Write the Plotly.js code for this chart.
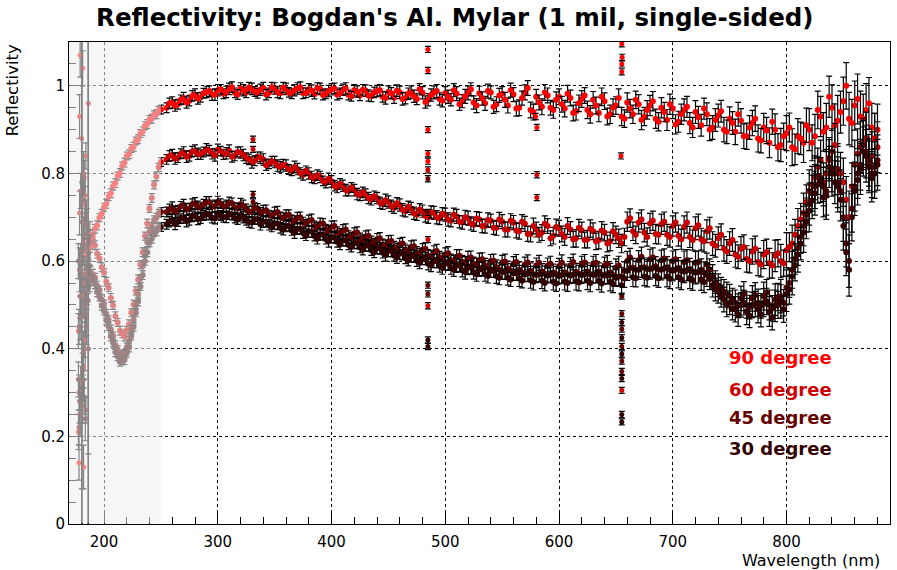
<!DOCTYPE html>
<html>
<head>
<meta charset="utf-8">
<script src="https://cdn.plot.ly/plotly-3.0.1.min.js"></script>
<style>html,body{margin:0;padding:0;background:#fff;}#chart{width:897px;height:570px;}</style>
</head>
<body>
<div id="chart"></div>
<script>
// Wavelength grid (nm): 2 nm steps in the UV dip, 5 nm above
const wavelength = [
186,188,190,192,194,196,198,200,202,204,
206,208,210,212,214,216,218,220,222,224,
226,228,230,232,234,236,238,240,242,244,
246,248,250,
255,260,265,270,275,280,
285,290,295,300,305,310,315,320,325,330,
335,340,345,350,355,360,365,370,375,380,
385,390,395,400,405,410,415,420,425,430,
435,440,445,450,455,460,465,470,475,480,
485,490,495,500,505,510,515,520,525,530,
535,540,545,550,555,560,565,570,575,580,
585,590,595,600,605,610,615,620,625,630,
635,640,645,650,655,660,665,670,675,680,
685,690,695,700,705,710,715,720,725,730,
735,740,745,750,755,760,765,770,775,780,
785,790,795,800,805,810,815,820,825,830,
835,840,845,850,855,860,865,870,875,880];

const refl90 = [
0.620,0.640,0.660,0.674,0.682,0.699,0.708,0.723,0.731,0.747,
0.755,0.771,0.778,0.794,0.801,0.817,0.825,0.840,0.844,0.857,
0.861,0.874,0.878,0.891,0.896,0.909,0.913,0.923,0.925,0.934,
0.935,0.944,0.946,
0.950,0.962,0.958,0.972,0.966,0.980,
0.974,0.986,0.979,0.990,0.982,0.993,0.984,0.994,0.985,0.993,
0.983,0.995,0.984,0.994,0.983,0.993,0.982,0.994,0.983,0.992,
0.981,0.993,0.982,0.992,0.980,0.991,0.979,0.990,0.978,0.989,
0.976,0.988,0.975,0.986,0.973,0.985,0.972,0.986,0.970,0.984,
0.968,0.985,0.970,0.983,0.968,0.982,0.965,0.984,0.962,0.983,
0.960,0.985,0.958,0.982,0.955,0.980,0.950,0.985,0.945,0.975,
0.952,0.978,0.945,0.975,0.948,0.972,0.942,0.970,0.945,0.968,
0.938,0.965,0.935,0.955,0.930,0.962,0.935,0.958,0.930,0.955,
0.925,0.950,0.922,0.948,0.918,0.945,0.915,0.940,0.910,0.935,
0.905,0.932,0.900,0.925,0.895,0.920,0.885,0.915,0.880,0.905,
0.870,0.900,0.865,0.892,0.860,0.885,0.870,0.900,0.885,0.930,
0.905,0.950,0.920,0.965,0.925,0.955,0.930,0.945,0.905,0.900];

const refl60 = [
0.640,0.660,0.652,0.636,0.617,0.606,0.586,0.574,0.553,0.539,
0.516,0.499,0.474,0.460,0.441,0.434,0.428,0.442,0.456,0.482,
0.501,0.532,0.558,0.592,0.620,0.657,0.686,0.720,0.744,0.774,
0.793,0.814,0.826,
0.832,0.842,0.836,0.848,0.840,0.852,
0.843,0.855,0.845,0.854,0.843,0.852,0.840,0.848,0.835,0.825,
0.838,0.832,0.822,0.826,0.815,0.818,0.806,0.810,0.797,0.800,
0.788,0.792,0.778,0.782,0.768,0.772,0.760,0.762,0.750,0.752,
0.740,0.744,0.730,0.735,0.722,0.728,0.714,0.720,0.706,0.714,
0.700,0.710,0.697,0.706,0.692,0.702,0.688,0.698,0.683,0.695,
0.680,0.692,0.676,0.690,0.672,0.688,0.668,0.685,0.662,0.672,
0.665,0.680,0.658,0.675,0.655,0.672,0.652,0.670,0.650,0.668,
0.648,0.665,0.645,0.660,0.640,0.690,0.668,0.688,0.665,0.686,
0.662,0.684,0.660,0.680,0.658,0.678,0.655,0.675,0.650,0.668,
0.640,0.652,0.628,0.640,0.615,0.628,0.605,0.622,0.598,0.615,
0.595,0.612,0.600,0.625,0.640,0.680,0.710,0.760,0.790,0.830,
0.800,0.850,0.810,0.780,0.700,0.820,0.860,0.880,0.840,0.860];

const refl45 = [
0.560,0.575,0.570,0.562,0.544,0.534,0.513,0.502,0.480,0.466,
0.444,0.429,0.408,0.398,0.385,0.386,0.388,0.404,0.418,0.444,
0.466,0.499,0.525,0.560,0.588,0.622,0.643,0.667,0.678,0.694,
0.699,0.709,0.712,
0.712,0.722,0.716,0.728,0.720,0.732,
0.722,0.734,0.724,0.735,0.724,0.733,0.722,0.730,0.718,0.712,
0.720,0.714,0.705,0.710,0.700,0.704,0.694,0.698,0.688,0.692,
0.680,0.685,0.673,0.678,0.666,0.670,0.658,0.663,0.652,0.656,
0.645,0.650,0.638,0.644,0.632,0.638,0.626,0.632,0.620,0.626,
0.612,0.620,0.608,0.615,0.602,0.610,0.598,0.606,0.594,0.602,
0.590,0.600,0.586,0.597,0.583,0.594,0.580,0.592,0.578,0.590,
0.576,0.590,0.574,0.588,0.574,0.590,0.575,0.592,0.576,0.592,
0.576,0.590,0.574,0.585,0.565,0.600,0.585,0.602,0.586,0.604,
0.588,0.602,0.586,0.600,0.584,0.598,0.582,0.596,0.580,0.592,
0.565,0.545,0.530,0.520,0.505,0.515,0.500,0.515,0.505,0.520,
0.500,0.512,0.520,0.540,0.580,0.630,0.680,0.730,0.770,0.790,
0.760,0.810,0.780,0.700,0.600,0.770,0.820,0.850,0.800,0.830];

const refl30 = [
0.540,0.558,0.555,0.547,0.529,0.518,0.498,0.486,0.465,0.451,
0.428,0.413,0.392,0.382,0.370,0.372,0.374,0.390,0.403,0.429,
0.450,0.482,0.508,0.542,0.568,0.600,0.620,0.642,0.651,0.665,
0.668,0.677,0.678,
0.684,0.694,0.690,0.700,0.694,0.705,
0.697,0.708,0.699,0.709,0.700,0.708,0.698,0.705,0.694,0.688,
0.696,0.690,0.682,0.686,0.676,0.680,0.670,0.674,0.664,0.668,
0.657,0.661,0.650,0.655,0.644,0.648,0.637,0.642,0.631,0.636,
0.625,0.630,0.619,0.624,0.613,0.618,0.607,0.612,0.601,0.606,
0.594,0.600,0.589,0.595,0.584,0.590,0.579,0.585,0.574,0.581,
0.570,0.578,0.566,0.575,0.562,0.572,0.560,0.570,0.556,0.568,
0.555,0.567,0.553,0.566,0.553,0.567,0.554,0.568,0.555,0.569,
0.555,0.567,0.553,0.562,0.545,0.578,0.563,0.580,0.565,0.582,
0.566,0.580,0.565,0.578,0.563,0.576,0.561,0.574,0.558,0.568,
0.545,0.530,0.512,0.505,0.490,0.500,0.485,0.500,0.490,0.505,
0.485,0.498,0.508,0.525,0.565,0.615,0.665,0.715,0.755,0.780,
0.750,0.800,0.770,0.680,0.580,0.760,0.810,0.840,0.790,0.820];

// measurement uncertainty per wavelength
const reflErr = [
0.014,0.012,0.011,0.010,0.010,0.009,0.010,0.009,0.010,0.009,
0.010,0.009,0.010,0.009,0.010,0.009,0.010,0.009,0.010,0.009,
0.010,0.009,0.010,0.009,0.010,0.009,0.010,0.009,0.010,0.009,
0.010,0.009,0.010,
0.011,0.013,0.011,0.013,0.012,0.013,
0.011,0.013,0.012,0.013,0.011,0.013,0.011,0.013,0.012,0.013,
0.011,0.013,0.011,0.013,0.012,0.013,0.011,0.013,0.012,0.013,
0.011,0.013,0.011,0.013,0.012,0.013,0.011,0.013,0.012,0.013,
0.012,0.013,0.012,0.014,0.013,0.014,0.013,0.014,0.013,0.014,
0.014,0.015,0.014,0.015,0.014,0.016,0.015,0.016,0.015,0.016,
0.016,0.015,0.017,0.016,0.017,0.016,0.018,0.017,0.018,0.017,
0.018,0.017,0.019,0.018,0.019,0.018,0.020,0.019,0.020,0.019,
0.020,0.019,0.021,0.020,0.021,0.022,0.021,0.022,0.021,0.023,
0.022,0.023,0.024,0.023,0.024,0.025,0.024,0.026,0.025,0.026,
0.027,0.026,0.028,0.027,0.029,0.028,0.030,0.029,0.031,0.032,
0.034,0.036,0.038,0.040,0.042,0.040,0.045,0.048,0.050,0.046,
0.055,0.052,0.058,0.055,0.060,0.056,0.058,0.060,0.055,0.058];

// second interleaved scan (offset by 2.5 nm)
const wavelengthB = [
257.5,262.5,267.5,272.5,277.5,282.5,287.5,292.5,297.5,302.5,
307.5,312.5,317.5,322.5,327.5,332.5,337.5,342.5,347.5,352.5,
357.5,362.5,367.5,372.5,377.5,382.5,387.5,392.5,397.5,402.5,
407.5,412.5,417.5,422.5,427.5,432.5,437.5,442.5,447.5,452.5,
457.5,462.5,467.5,472.5,477.5,482.5,487.5,492.5,497.5,502.5,
507.5,512.5,517.5,522.5,527.5,532.5,537.5,542.5,547.5,552.5,
557.5,562.5,567.5,572.5,577.5,582.5,587.5,592.5,597.5,602.5,
607.5,612.5,617.5,622.5,627.5,632.5,637.5,642.5,647.5,652.5,
657.5,662.5,667.5,672.5,677.5,682.5,687.5,692.5,697.5,702.5,
707.5,712.5,717.5,722.5,727.5,732.5,737.5,742.5,747.5,752.5,
757.5,762.5,767.5,772.5,777.5,782.5,787.5,792.5,797.5,802.5,
807.5,812.5,817.5,822.5,827.5,832.5,837.5,842.5,847.5,852.5,
857.5,862.5,867.5,872.5,877.5];

const refl90B = [
0.960,0.955,0.968,0.962,0.977,0.971,0.983,0.988,0.980,0.992,
0.986,0.997,0.980,0.990,0.996,0.987,0.991,0.980,0.997,0.986,
0.996,0.985,0.990,0.997,0.984,0.989,0.995,0.979,0.988,0.994,
0.983,0.994,0.976,0.987,0.991,0.978,0.985,0.990,0.972,0.983,
0.989,0.970,0.982,0.976,0.992,0.963,0.979,0.988,0.966,0.975,
0.990,0.958,0.976,0.992,0.955,0.971,0.988,0.952,0.978,0.968,
0.990,0.948,0.972,0.995,0.940,0.962,0.985,0.950,0.968,0.958,
0.982,0.938,0.960,0.978,0.935,0.955,0.975,0.930,0.950,0.972,
0.925,0.948,0.968,0.922,0.945,0.965,0.918,0.940,0.958,0.912,
0.935,0.952,0.905,0.928,0.948,0.900,0.922,0.942,0.895,0.915,
0.935,0.885,0.905,0.925,0.875,0.898,0.918,0.860,0.885,0.905,
0.855,0.880,0.910,0.870,0.945,0.895,0.975,0.910,0.940,1.000,
0.915,0.970,0.925,0.960,0.880];

const refl60B = [
0.840,0.834,0.845,0.838,0.850,0.845,0.849,0.852,0.841,0.851,
0.846,0.838,0.849,0.842,0.832,0.829,0.836,0.819,0.828,0.818,
0.820,0.809,0.815,0.801,0.806,0.792,0.796,0.783,0.788,0.772,
0.776,0.762,0.768,0.753,0.757,0.744,0.748,0.733,0.739,0.726,
0.732,0.717,0.724,0.709,0.718,0.703,0.712,0.700,0.708,0.695,
0.706,0.690,0.700,0.686,0.697,0.680,0.694,0.676,0.695,0.672,
0.692,0.670,0.690,0.662,0.680,0.660,0.685,0.652,0.678,0.662,
0.680,0.650,0.676,0.648,0.674,0.645,0.670,0.640,0.668,0.652,
0.655,0.698,0.660,0.695,0.655,0.692,0.660,0.690,0.655,0.688,
0.650,0.688,0.648,0.682,0.645,0.675,0.635,0.660,0.622,0.648,
0.610,0.632,0.600,0.628,0.592,0.620,0.590,0.618,0.595,0.632,
0.660,0.695,0.735,0.775,0.815,0.780,0.830,0.865,0.800,0.740,
0.770,0.845,0.870,0.820,0.880];

const refl45B = [
0.718,0.712,0.725,0.718,0.730,0.724,0.730,0.735,0.726,0.731,
0.726,0.732,0.720,0.726,0.713,0.722,0.709,0.716,0.703,0.712,
0.698,0.706,0.690,0.700,0.684,0.694,0.676,0.686,0.668,0.680,
0.662,0.672,0.654,0.665,0.648,0.658,0.640,0.652,0.634,0.646,
0.628,0.640,0.622,0.634,0.616,0.628,0.610,0.623,0.604,0.618,
0.598,0.612,0.594,0.608,0.590,0.604,0.585,0.601,0.580,0.599,
0.578,0.598,0.574,0.597,0.570,0.596,0.571,0.594,0.570,0.596,
0.570,0.598,0.571,0.597,0.570,0.596,0.569,0.594,0.568,0.590,
0.578,0.608,0.580,0.610,0.582,0.608,0.581,0.606,0.580,0.604,
0.578,0.602,0.576,0.598,0.574,0.580,0.552,0.538,0.525,0.512,
0.498,0.525,0.495,0.522,0.498,0.528,0.492,0.518,0.505,0.550,
0.605,0.655,0.705,0.755,0.795,0.770,0.835,0.800,0.760,0.640,
0.720,0.800,0.865,0.830,0.815];

const refl30B = [
0.690,0.685,0.697,0.691,0.702,0.696,0.704,0.706,0.698,0.704,
0.701,0.706,0.695,0.700,0.689,0.695,0.684,0.690,0.678,0.685,
0.672,0.680,0.665,0.674,0.658,0.667,0.651,0.660,0.645,0.653,
0.638,0.647,0.632,0.641,0.626,0.635,0.620,0.629,0.614,0.623,
0.608,0.617,0.602,0.611,0.596,0.606,0.590,0.600,0.584,0.594,
0.580,0.590,0.575,0.586,0.570,0.582,0.566,0.578,0.562,0.575,
0.558,0.573,0.555,0.571,0.552,0.570,0.550,0.569,0.549,0.568,
0.550,0.569,0.551,0.570,0.550,0.569,0.549,0.567,0.548,0.565,
0.560,0.584,0.561,0.585,0.562,0.584,0.561,0.583,0.560,0.581,
0.558,0.579,0.556,0.575,0.552,0.560,0.535,0.520,0.500,0.492,
0.478,0.505,0.475,0.502,0.478,0.508,0.472,0.500,0.490,0.535,
0.590,0.640,0.690,0.738,0.775,0.745,0.815,0.780,0.740,0.620,
0.700,0.785,0.850,0.815,0.800];

const reflErrB = [
0.012,0.013,0.011,0.013,0.012,0.013,0.011,0.012,0.013,0.011,
0.013,0.012,0.011,0.013,0.012,0.011,0.013,0.012,0.011,0.013,
0.012,0.011,0.013,0.012,0.011,0.013,0.012,0.011,0.013,0.012,
0.012,0.013,0.011,0.013,0.012,0.013,0.012,0.013,0.014,0.013,
0.013,0.014,0.013,0.014,0.013,0.014,0.014,0.015,0.014,0.015,
0.015,0.014,0.016,0.015,0.016,0.015,0.016,0.015,0.016,0.017,
0.016,0.017,0.016,0.017,0.018,0.017,0.018,0.017,0.018,0.018,
0.019,0.018,0.019,0.018,0.020,0.019,0.020,0.019,0.020,0.021,
0.020,0.021,0.020,0.022,0.021,0.022,0.021,0.022,0.023,0.022,
0.023,0.024,0.023,0.025,0.024,0.025,0.026,0.025,0.027,0.026,
0.027,0.028,0.027,0.029,0.028,0.030,0.029,0.031,0.030,0.033,
0.035,0.037,0.039,0.041,0.043,0.044,0.047,0.049,0.048,0.053,
0.054,0.057,0.056,0.059,0.057];

// noisy points at the short-wavelength edge
const edgeWl = [177.5, 178, 178.5, 179, 179.5, 180.4, 181.2, 181.8, 182, 182.6, 183, 183.5, 184, 184.6, 185, 186.2, 187.5];
const edgeErr = [0.04, 0.04, 0.05, 0.05, 0.04, 0.8, 0.04, 0.05, 0.05, 0.04, 0.04, 0.05, 0.03, 0.04, 0.03, 0.8, 0.03];
const edge90 = [0.21, 0.14, 0.93, 1.07, 0.32, 0.88, 1.04, 0.52, 0.13, 0.79, 0.73, 0.40, 0.61, 0.55, 0.69, 0.96, 0.66];
const edge60 = [0.44, 0.30, 0.71, 0.52, 0.60, 0.78, 0.27, 0.36, 0.65, 0.57, 0.42, 0.75, 0.84, 0.47, 0.62, 0.58, 0.63];
const edge45 = [0.33, 0.22, 0.58, 0.47, 0.76, 0.69, 0.35, 0.64, 0.80, 0.29, 0.55, 0.48, 0.26, 0.70, 0.57, 0.51, 0.59];
const edge30 = [0.60, 0.45, 0.28, 0.25, 0.52, 0.62, 0.74, 0.39, 0.33, 0.66, 0.50, 0.24, 0.68, 0.45, 0.53, 0.40, 0.56];

// lamp-line artefacts
const spikeWl90 = [484.7, 484.7, 484.7, 484.7, 484.7, 580.5, 579.5, 655.2, 655.2, 655.2, 654.5, 655.5];
const spike90 = [1.083, 1.035, 0.900, 0.845, 0.828, 0.905, 0.930, 1.096, 1.050, 1.032, 0.840, 1.065];
const spikeWl60 = [331, 331, 484.7, 484.7, 484.7, 580.5, 580.5, 655.2];
const spike60 = [0.878, 0.855, 0.808, 0.649, 0.498, 0.797, 0.745, 0.305];
const spikeWl45 = [331, 331, 484.7, 484.7, 484.7, 484.7, 655.2, 655.2, 655.2, 655.2, 655.2, 655.2];
const spike45 = [0.752, 0.735, 0.788, 0.711, 0.545, 0.525, 0.520, 0.480, 0.445, 0.405, 0.372, 0.348];
const spikeWl30 = [484.7, 484.7, 655.2, 655.2, 655.2, 655.2, 655.2, 655.2];
const spike30 = [0.420, 0.405, 0.460, 0.425, 0.388, 0.332, 0.250, 0.233];

const seriesNames = ["90 degree", "60 degree", "45 degree", "30 degree"];
const seriesColors = ["#ff0000", "#cc0000", "#660000", "#330000"];
const xTickVals = [200, 300, 400, 500, 600, 700, 800];
const yTickVals = [0, 0.2, 0.4, 0.6, 0.8, 1];

const mainY = [refl90, refl60, refl45, refl30];
const mainYB = [refl90B, refl60B, refl45B, refl30B];
const edgeY = [edge90, edge60, edge45, edge30];
const spikeX = [spikeWl90, spikeWl60, spikeWl45, spikeWl30];
const spikeY = [spike90, spike60, spike45, spike30];

const traces = [];
function errBar(arr) {
  return {type: 'data', array: arr, visible: true, color: '#000000', thickness: 1.2, width: 3};
}
for (let i = 0; i < 4; i++) {
  traces.push({x: wavelength, y: mainY[i], type: 'scatter', mode: 'markers', name: seriesNames[i],
    marker: {color: seriesColors[i], size: 6}, error_y: errBar(reflErr), showlegend: false});
  traces.push({x: wavelengthB, y: mainYB[i], type: 'scatter', mode: 'markers', name: seriesNames[i],
    marker: {color: seriesColors[i], size: 6}, error_y: errBar(reflErrB), showlegend: false});
  traces.push({x: edgeWl, y: edgeY[i], type: 'scatter', mode: 'markers', name: seriesNames[i],
    marker: {color: seriesColors[i], size: 5}, error_y: errBar(edgeErr), showlegend: false});
  traces.push({x: spikeX[i], y: spikeY[i], type: 'scatter', mode: 'markers', name: seriesNames[i],
    marker: {color: seriesColors[i], size: 5},
    error_y: {type: 'constant', value: 0.007, visible: true, color: '#000000', thickness: 1.2, width: 3},
    showlegend: false});
}

const axisFont = {family: 'DejaVu Sans, Liberation Sans, Arial', size: 15, color: '#000'};
const legendY = [0.3795, 0.307, 0.2435, 0.1727];
const annotations = seriesNames.map((n, i) => ({
  text: '<b>' + n + '</b>', x: 747.7, y: legendY[i], xref: 'x', yref: 'y',
  xanchor: 'left', yanchor: 'middle', showarrow: false,
  font: {family: 'DejaVu Sans', size: 18, color: seriesColors[i]}
}));
annotations.push({text: 'Reflectivity', textangle: -90, xref: 'paper', yref: 'paper',
  x: -0.069, y: 1, xanchor: 'center', yanchor: 'top', showarrow: false,
  font: {family: 'DejaVu Sans', size: 16.5, color: '#000'}});
annotations.push({text: 'Wavelength (nm)', xref: 'paper', yref: 'paper',
  x: 0.990, y: -0.0755, xanchor: 'right', yanchor: 'middle', showarrow: false,
  font: {family: 'DejaVu Sans', size: 16, color: '#000'}});

const layout = {
  width: 897, height: 570,
  margin: {l: 69, r: 7, t: 42, b: 46, pad: 0},
  paper_bgcolor: '#fff', plot_bgcolor: '#fff',
  showlegend: false,
  title: {text: "<b>Reflectivity: Bogdan's Al. Mylar (1 mil, single-sided)</b>",
    x: 0.507, xref: 'container', xanchor: 'center', y: 0.97, yref: 'container', yanchor: 'middle',
    font: {family: 'DejaVu Sans', size: 24.5, color: '#000'}},
  xaxis: {range: [169.2, 891], tickvals: xTickVals, ticktext: xTickVals.map(String),
    ticks: 'inside', ticklen: 14, tickcolor: '#000', tickwidth: 1, ticklabelstandoff: 4,
    minor: {dtick: 20, tick0: 0, ticks: 'inside', ticklen: 7, tickcolor: '#000', showgrid: false},
    showgrid: true, gridcolor: '#000', griddash: 'dot', gridwidth: 1,
    showline: true, mirror: true, linecolor: '#000', linewidth: 1, zeroline: false,
    tickfont: axisFont},
  yaxis: {range: [0, 1.1], tickvals: yTickVals, ticktext: yTickVals.map(String),
    ticks: 'inside', ticklen: 14, tickcolor: '#000', tickwidth: 1,
    minor: {dtick: 0.05, tick0: 0, ticks: 'inside', ticklen: 7, tickcolor: '#000', showgrid: false},
    showgrid: true, gridcolor: '#000', griddash: 'dot', gridwidth: 1,
    showline: true, mirror: true, linecolor: '#000', linewidth: 1, zeroline: false,
    tickfont: axisFont},
  shapes: [{type: 'rect', xref: 'x', yref: 'paper', x0: 169.6, x1: 250, y0: 0.002, y1: 1,
    layer: 'above', fillcolor: 'rgba(238,238,238,0.55)', line: {width: 0}}],
  annotations: annotations
};

Plotly.newPlot('chart', traces, layout, {displayModeBar: false, staticPlot: true});
</script>
</body>
</html>
